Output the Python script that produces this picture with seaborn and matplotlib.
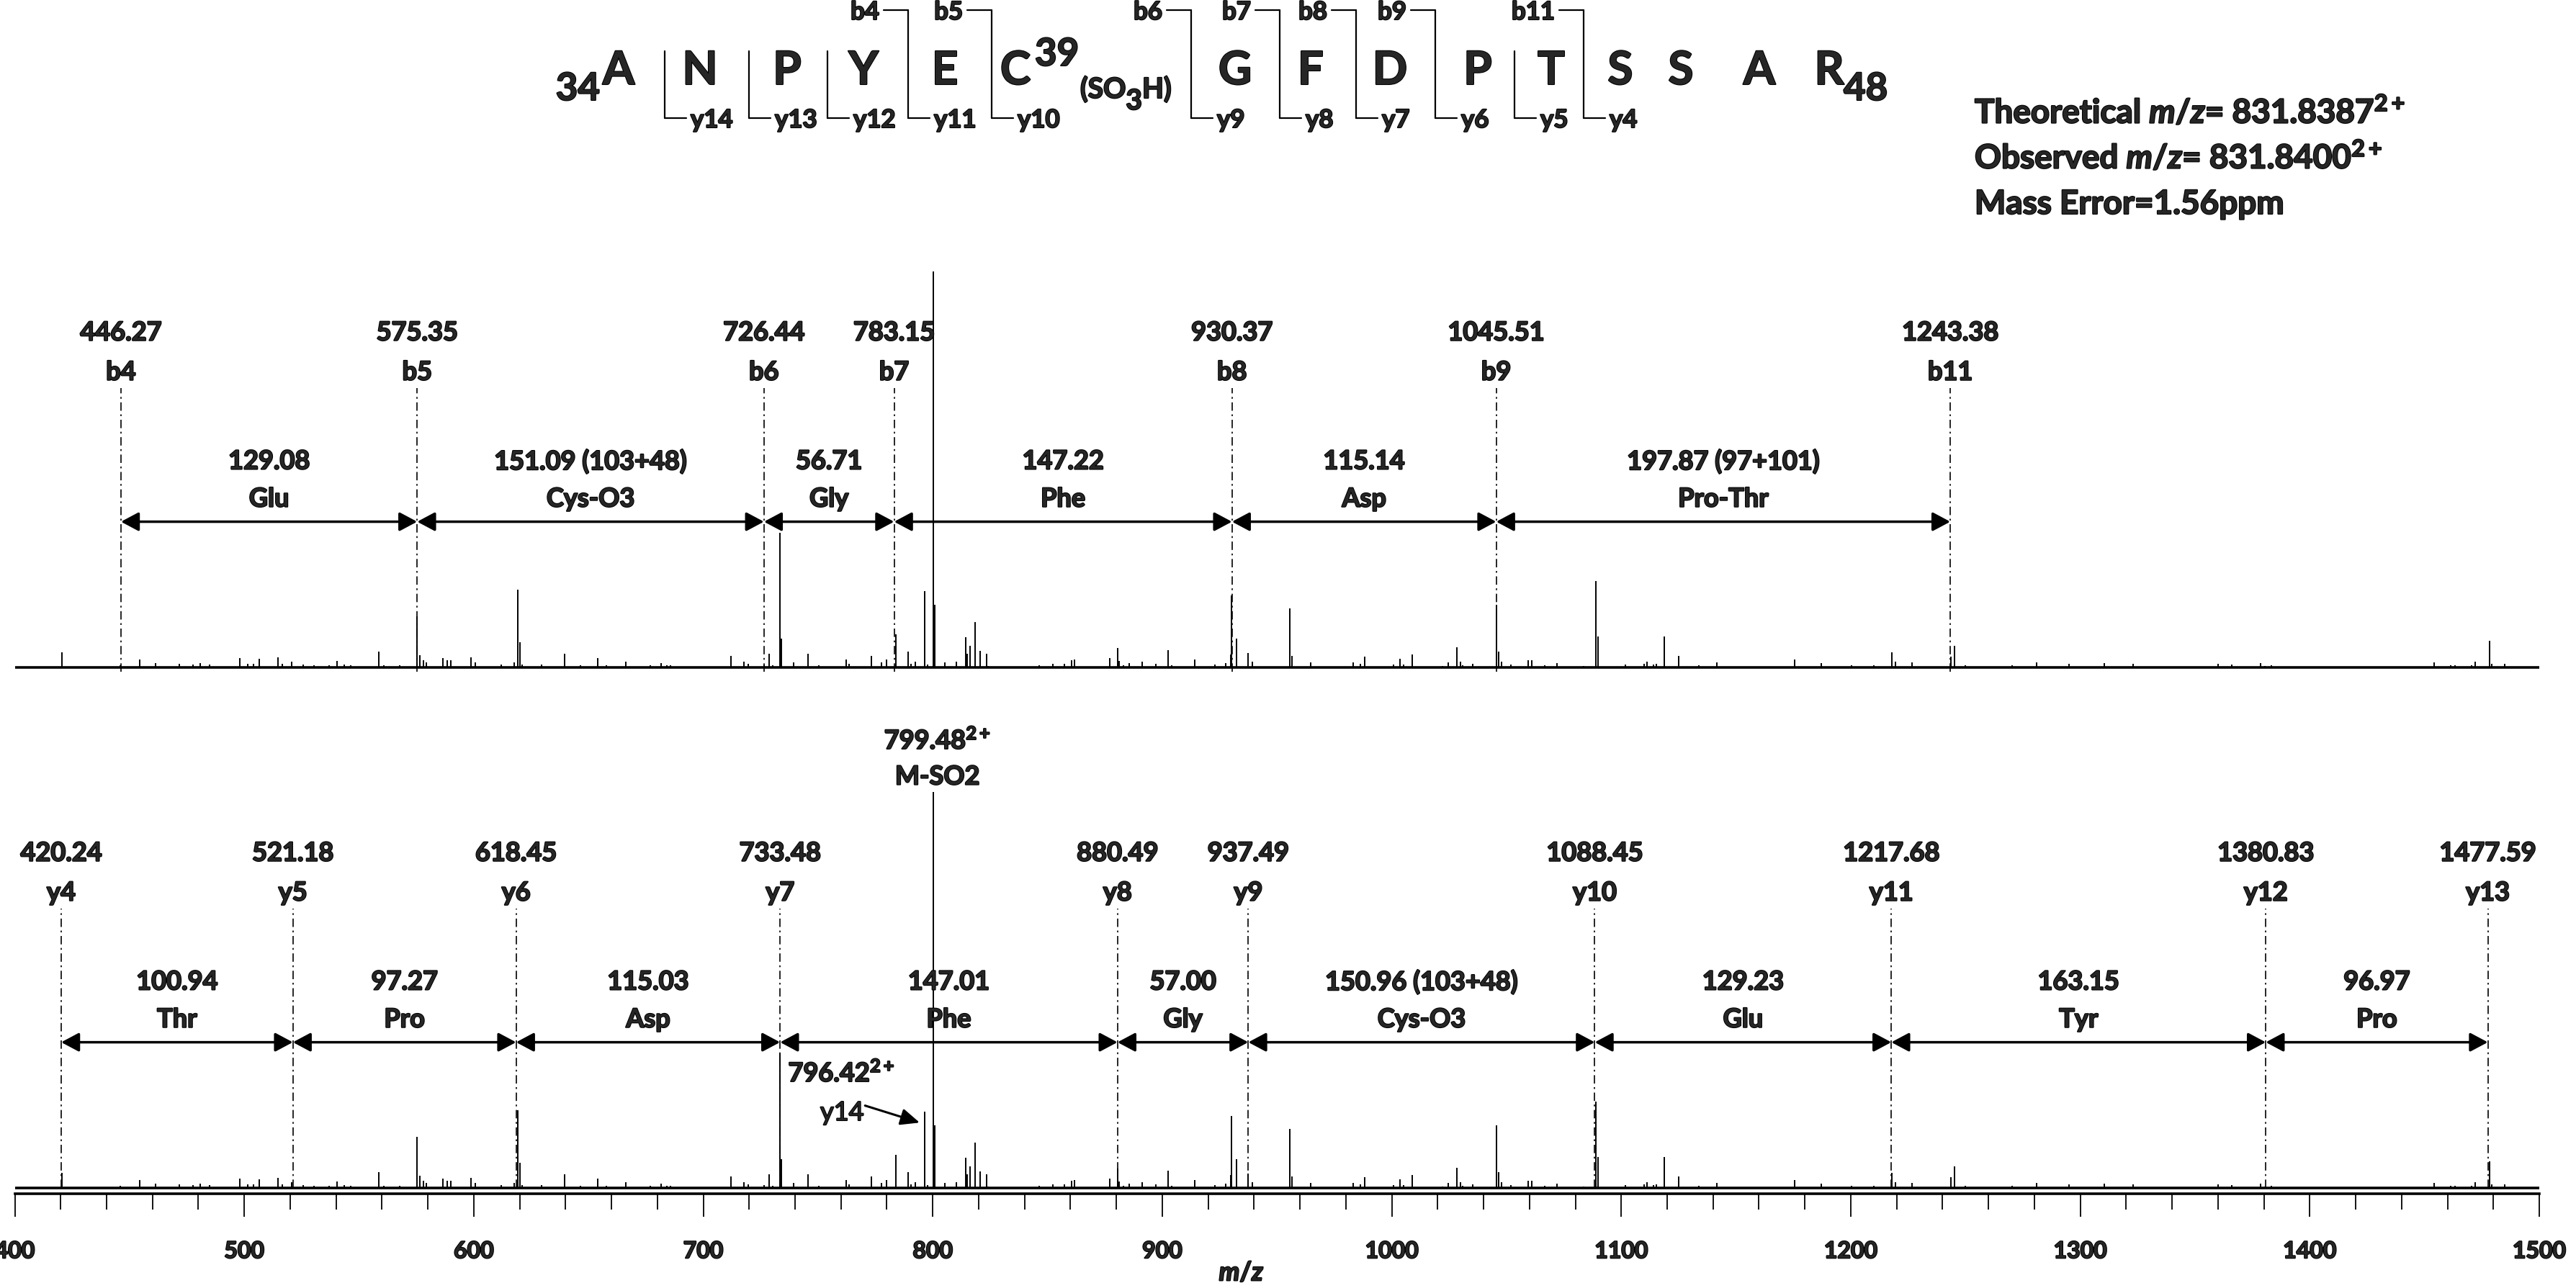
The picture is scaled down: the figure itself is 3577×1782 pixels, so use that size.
import matplotlib
matplotlib.use("Agg")
import matplotlib.pyplot as plt
import matplotlib.patheffects as pe
import seaborn as sns
from matplotlib import font_manager
from matplotlib.lines import Line2D
from matplotlib.text import Text
from matplotlib.ticker import MultipleLocator

# ---- data ------------------------------------------------------------------
# MS/MS peak list (m/z, relative intensity %), the same spectrum is shown twice
peak_mz = [
    420.6, 445.9, 454.5, 461.5, 471.6, 477.7, 480.8, 484.8, 498.0, 501.5,
    504.0, 506.4, 514.8, 516.5, 520.8, 525.7, 530.3, 537.1, 540.5, 543.6,
    546.5, 558.5, 560.8, 567.7, 575.4, 576.5, 578.0, 579.4, 586.6, 588.5,
    590.0, 598.8, 600.6, 612.1, 617.6, 619.3, 620.0, 621.2, 629.4, 639.5,
    646.4, 654.1, 657.7, 666.4, 676.9, 681.6, 684.1, 685.8, 712.2, 717.7,
    719.6, 726.6, 728.7, 730.3, 733.3, 734.0, 739.4, 745.6, 750.2, 762.3,
    763.4, 773.4, 777.8, 779.7, 783.8, 789.3, 790.5, 792.4, 796.5, 797.7,
    800.1, 800.8, 805.2, 810.2, 814.3, 815.0, 816.4, 818.3, 820.5, 823.4,
    824.1, 846.5, 852.2, 857.5, 860.6, 861.6, 877.0, 880.5, 881.3, 883.0,
    885.6, 891.1, 897.1, 902.6, 904.1, 914.2, 922.8, 927.6, 929.8, 930.2,
    932.2, 937.5, 939.2, 955.5, 956.5, 964.6, 983.3, 986.2, 988.1, 1000.6,
    1003.5, 1005.0, 1009.0, 1022.2, 1024.6, 1028.5, 1029.9, 1030.9, 1035.4, 1045.5,
    1046.7, 1047.9, 1051.8, 1059.4, 1060.9, 1066.6, 1071.9, 1083.5, 1089.0, 1090.0,
    1101.7, 1110.1, 1111.1, 1114.0, 1115.2, 1118.8, 1125.0, 1133.9, 1141.8, 1175.4,
    1187.1, 1200.3, 1210.2, 1218.0, 1219.4, 1226.7, 1243.7, 1245.1, 1249.9, 1270.4,
    1281.0, 1295.1, 1310.6, 1322.9, 1360.0, 1366.1, 1378.6, 1380.5, 1383.3, 1400.3,
    1454.1, 1461.3, 1463.4, 1470.5, 1472.2, 1478.5, 1479.2, 1484.9,
]
peak_int = [
    3.8, 0.5, 2.0, 1.1, 0.9, 0.7, 1.1, 0.7, 2.4, 0.9,
    0.9, 2.2, 2.5, 0.9, 1.4, 0.7, 0.5, 0.5, 1.6, 0.7,
    0.5, 4.0, 0.5, 0.5, 13.0, 3.1, 1.8, 1.2, 2.4, 1.8,
    1.8, 2.5, 1.3, 0.7, 1.3, 19.7, 6.3, 0.7, 0.7, 3.4,
    0.5, 2.4, 0.5, 1.4, 0.5, 1.1, 0.5, 0.5, 2.9, 1.4,
    0.9, 0.7, 3.4, 0.5, 34.0, 7.2, 1.3, 3.4, 0.5, 2.0,
    0.9, 2.9, 1.3, 2.0, 8.3, 4.0, 0.9, 1.4, 19.2, 0.7,
    100.0, 15.8, 1.3, 1.4, 7.6, 3.4, 5.4, 11.4, 4.2, 3.4,
    0.4, 0.5, 0.9, 0.9, 1.8, 2.0, 2.4, 4.9, 1.6, 0.5,
    1.1, 1.4, 0.9, 4.3, 0.5, 2.0, 0.7, 1.1, 3.3, 18.1,
    7.2, 3.6, 1.4, 14.9, 2.9, 1.3, 1.3, 0.9, 2.7, 0.7,
    2.2, 0.7, 3.3, 0.3, 1.3, 5.1, 1.4, 0.5, 0.9, 15.9,
    4.0, 1.4, 0.7, 1.8, 1.8, 0.5, 1.1, 0.3, 21.9, 7.8,
    0.7, 0.9, 1.4, 0.7, 0.9, 7.8, 2.9, 0.5, 1.3, 2.0,
    1.1, 0.5, 0.5, 3.8, 1.4, 1.3, 2.7, 5.4, 0.5, 0.5,
    1.3, 0.9, 1.1, 0.9, 0.9, 0.7, 1.1, 0.3, 0.5, 0.2,
    1.3, 0.5, 0.5, 0.5, 1.4, 6.7, 0.9, 0.9,
]

b_ion_names = ["b4", "b5", "b6", "b7", "b8", "b9", "b11"]
b_ion_mz = [446.27, 575.35, 726.44, 783.15, 930.37, 1045.51, 1243.38]
b_gap_mass = ["129.08", "151.09 (103+48)", "56.71", "147.22", "115.14", "197.87 (97+101)"]
b_gap_residue = ["Glu", "Cys-O3", "Gly", "Phe", "Asp", "Pro-Thr"]

y_ion_names = ["y4", "y5", "y6", "y7", "y8", "y9", "y10", "y11", "y12", "y13"]
y_ion_mz = [420.24, 521.18, 618.45, 733.48, 880.49, 937.49, 1088.45, 1217.68, 1380.83, 1477.59]
y_gap_mass = ["100.94", "97.27", "115.03", "147.01", "57.00", "150.96 (103+48)",
              "129.23", "163.15", "96.97"]
y_gap_residue = ["Thr", "Pro", "Asp", "Phe", "Gly", "Cys-O3", "Glu", "Tyr", "Pro"]

precursor_mz = 799.48
precursor_name = "M-SO2"
y14_mz = 796.42

sequence = list("ANPYECGFDPTSSAR")
first_res, last_res, cys_res = 34, 48, 39
b_cleavages = [4, 5, 6, 7, 8, 9, 11]          # b ions marked in the sequence
y_cleavages = list(range(1, 12))             # cleavage after residue k -> y(15-k)

theo_mz, obs_mz, mass_error = "831.8387", "831.8400", "1.56"


# ---- style -----------------------------------------------------------------
def _weight(w):
    if isinstance(w, str):
        return font_manager.weight_dict.get(w, 400)
    return w


def pick_family(prefs):
    # first family that really ships a bold face
    for fam in prefs:
        faces = [f for f in font_manager.fontManager.ttflist if f.name == fam]
        if any(_weight(f.weight) >= 700 for f in faces):
            return fam
    return "DejaVu Sans"


sns.set_theme(style="white")
FAM = pick_family(["Lato", "Roboto", "Open Sans", "Liberation Sans"])
plt.rcParams["font.family"] = [FAM, "DejaVu Sans"]
plt.rcParams["font.weight"] = "bold"
plt.rcParams["mathtext.fontset"] = "custom"
plt.rcParams["mathtext.rm"] = f"{FAM}:bold"
plt.rcParams["mathtext.it"] = f"{FAM}:italic:bold"
plt.rcParams["mathtext.bf"] = f"{FAM}:bold"

W, H = 3577, 1783
PX = 5.5            # pixels per 1 % intensity


def fpos(x, y):
    return x / W, 1 - y / H


fig = plt.figure(figsize=(W / 100, H / 100), dpi=100)
L, R = 20.5, 3526
ax_top = fig.add_axes([L / W, 1 - 936 / H, (R - L) / W, (936 - 295) / H])
ax_bot = fig.add_axes([L / W, 1 - 1659 / H, (R - L) / W, (1659 - 960) / H])

LV_MASS, LV_ION, LV_DASH = 84.5, 74.5, 70.5
LV_GAP, LV_RES, LV_ARROW = 52.0, 42.5, 36.8
FS = 26
dash = (0, (7, 3, 1.5, 3))


def draw_panel(ax, names, mzs, gap_mass, gap_res, dash_bottom):
    ax.vlines(peak_mz, 0, peak_int, color="black", lw=1.4, zorder=2)
    ax.axhline(0, color="black", lw=2.6, zorder=3)
    for name, mz in zip(names, mzs):
        ax.text(mz, LV_MASS, f"{mz:.2f}", ha="center", va="center", fontsize=FS)
        ax.text(mz, LV_ION, name, ha="center", va="center", fontsize=FS)
        ax.plot([mz, mz], [dash_bottom, LV_DASH], color="black", lw=1.2, ls=dash)
    for i in range(len(mzs) - 1):
        x1, x2 = mzs[i], mzs[i + 1]
        ax.annotate("", xy=(x2, LV_ARROW), xytext=(x1, LV_ARROW),
                    arrowprops=dict(arrowstyle="<|-|>,head_length=0.75,head_width=0.4",
                                    color="black", lw=2.5, shrinkA=0, shrinkB=0,
                                    mutation_scale=20))
        xm = (x1 + x2) / 2
        ax.text(xm, LV_GAP, gap_mass[i], ha="center", va="center", fontsize=FS)
        ax.text(xm, LV_RES, gap_res[i], ha="center", va="center", fontsize=FS)


draw_panel(ax_top, b_ion_names, b_ion_mz, b_gap_mass, b_gap_residue, -1.0)
draw_panel(ax_bot, y_ion_names, y_ion_mz, y_gap_mass, y_gap_residue, 0)

# precursor and y14 (2+) labels in the lower panel
ax_bot.text(802, 113.0, f"{precursor_mz:.2f}$^{{2+}}$", ha="center", va="center", fontsize=FS)
ax_bot.text(802, 103.8, precursor_name, ha="center", va="center", fontsize=FS)
ax_bot.text(737, 29.0, f"{y14_mz:.2f}$^{{2+}}$", ha="left", va="center", fontsize=FS)
ax_bot.text(751, 19.0, "y14", ha="left", va="center", fontsize=FS, fontweight="normal")
ax_bot.annotate("", xy=(794.3, 16.5), xytext=(770.5, 20.8),
                arrowprops=dict(arrowstyle="-|>,head_length=0.8,head_width=0.35",
                                color="black", lw=2.2, shrinkA=0, shrinkB=0,
                                mutation_scale=20))

for ax in (ax_top, ax_bot):
    ax.set_xlim(400, 1500)
    ax.set_facecolor("none")
    ax.grid(False)
ax_top.set_ylim(-8 / PX, (928 - 295) / PX)
ax_bot.set_ylim(-8 / PX, (1651 - 960) / PX)

sns.despine(ax=ax_top, left=True, bottom=True)
ax_top.set_xticks([])
ax_top.set_yticks([])

sns.despine(ax=ax_bot, left=True)
ax_bot.spines["bottom"].set_linewidth(2.6)
ax_bot.spines["bottom"].set_color("black")
ax_bot.set_yticks([])
ax_bot.set_xticks(range(400, 1501, 100))
ax_bot.xaxis.set_minor_locator(MultipleLocator(20))
ax_bot.tick_params(axis="x", which="major", direction="out", length=23, width=1.3,
                   color="black", labelsize=23, pad=24, bottom=True)
ax_bot.tick_params(axis="x", which="minor", direction="out", length=16, width=1.3,
                   color="black", bottom=True)
for lab in ax_bot.get_xticklabels():
    lab.set_fontweight("bold")
ax_bot.set_xlabel("$m/z$", fontsize=26)
ax_bot.xaxis.set_label_coords(0.486, -0.134)

# ---- peptide sequence header ------------------------------------------------
seq_x = [859, 972, 1093, 1199, 1312, 1410, 1715, 1820, 1930, 2052, 2154, 2250, 2334, 2443, 2540]
cleave_x = [923, 1040, 1149, 1261, 1377, 1654, 1777, 1883, 1993, 2103, 2199]

for letter, x in zip(sequence, seq_x):
    fig.text(*fpos(x, 118), letter, ha="center", va="baseline", fontsize=46)
fig.text(*fpos(833, 140), str(first_res), ha="right", va="baseline", fontsize=38)
fig.text(*fpos(1437, 92), str(cys_res), ha="left", va="baseline", fontsize=38)
fig.text(*fpos(2560, 140), str(last_res), ha="left", va="baseline", fontsize=38)

renderer = fig.canvas.get_renderer()
t1 = fig.text(*fpos(1500, 137), "(SO", ha="left", va="baseline", fontsize=28)
x_end = t1.get_window_extent(renderer).x1
t2 = fig.text(x_end / W, 1 - 153 / H, "3", ha="left", va="baseline", fontsize=28)
x_end = t2.get_window_extent(renderer).x1
fig.text(x_end / W, 1 - 137 / H, "H)", ha="left", va="baseline", fontsize=28)

n_res = len(sequence)
for k, x in zip(y_cleavages, cleave_x):
    has_b = k in b_cleavages
    top = 15 if has_b else 72
    fig.add_artist(Line2D([x / W, x / W], [1 - top / H, 1 - 165 / H],
                          transform=fig.transFigure, color="black", lw=1.6))
    fig.add_artist(Line2D([x / W, (x + 30) / W], [1 - 165 / H, 1 - 165 / H],
                          transform=fig.transFigure, color="black", lw=1.6))
    fig.text(*fpos(x + 36, 178), f"y{n_res - k}", ha="left", va="baseline", fontsize=25)
    if has_b:
        fig.add_artist(Line2D([(x - 34) / W, x / W], [1 - 15 / H, 1 - 15 / H],
                              transform=fig.transFigure, color="black", lw=1.6))
        fig.text(*fpos(x - 40, 28), f"b{k}", ha="right", va="baseline", fontsize=25)

# precursor info
info = [
    f"Theoretical $m/z$= {theo_mz}$^{{2+}}$",
    f"Observed $m/z$= {obs_mz}$^{{2+}}$",
    f"Mass Error={mass_error}ppm",
]
for i, line in enumerate(info):
    fig.text(*fpos(2742, 172 + 63 * i), line, ha="left", va="baseline", fontsize=33)

# heavier strokes, the reference text is set in a very dark bold face
heavy = [pe.withStroke(linewidth=1.5, foreground="black")]
for t in fig.findobj(Text):
    if t.get_text():
        t.set_path_effects(heavy)

fig.savefig("out.png", dpi=100)
